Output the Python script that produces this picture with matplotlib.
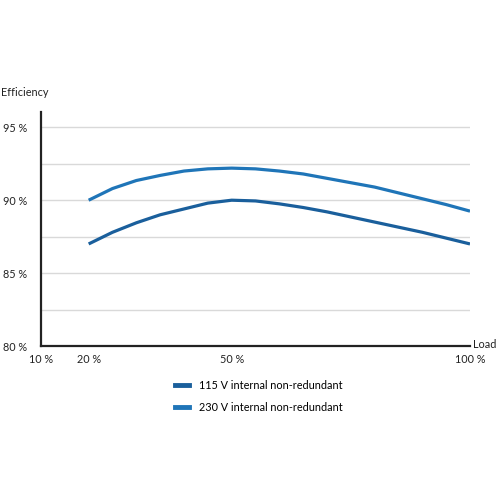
import matplotlib
matplotlib.use("Agg")
import matplotlib.pyplot as plt
from matplotlib.lines import Line2D

plt.rcParams["font.family"] = ["Lato", "DejaVu Sans"]

load = [20, 25, 30, 35, 40, 45, 50, 55, 60, 65, 70, 75, 80, 85, 90, 95, 100]
eff_115 = [87.0, 87.8, 88.45, 89.0, 89.4, 89.8, 90.0, 89.95, 89.75, 89.5, 89.2,
           88.85, 88.5, 88.15, 87.8, 87.4, 87.0]
eff_230 = [90.0, 90.8, 91.35, 91.7, 92.0, 92.15, 92.2, 92.15, 92.0, 91.8, 91.5,
           91.2, 90.9, 90.5, 90.1, 89.7, 89.25]
labels = ["115 V internal non-redundant", "230 V internal non-redundant"]
xticks = [10, 20, 50, 100]
yticks = [80, 85, 90, 95]

c115 = "#1a5f9c"
c230 = "#1f75b8"

fig = plt.figure(figsize=(5, 5), dpi=100)
ax = fig.add_axes([0.082, 0.308, 0.858, 0.468])

for g in [82.5, 85, 87.5, 90, 92.5, 95]:
    ax.axhline(g, color="#d9d9d9", lw=1.0, zorder=1)

ax.plot(load, eff_115, color=c115, lw=2.3, solid_capstyle="butt", zorder=3)
ax.plot(load, eff_230, color=c230, lw=2.3, solid_capstyle="butt", zorder=3)

ax.set_xlim(10, 100)
ax.set_ylim(80, 96.05)
ax.set_xticks(xticks)
ax.set_xticklabels([f"{v} %" for v in xticks])
ax.set_yticks(yticks)
ax.set_yticklabels([f"{v} %" for v in yticks])
ax.tick_params(length=0, labelsize=7.8, colors="#222222", pad=6)
ax.tick_params(axis="y", pad=10)
for s in ["top", "right"]:
    ax.spines[s].set_visible(False)
for s in ["left", "bottom"]:
    ax.spines[s].set_linewidth(1.6)
    ax.spines[s].set_color("#222222")

fig.text(0.002, 0.814, "Efficiency", fontsize=7.8, color="#222222", va="center")
fig.text(0.945, 0.31, "Load", fontsize=7.8, color="#222222", va="center")

handles = [Line2D([], [], color=c115, lw=3.5), Line2D([], [], color=c230, lw=3.5)]
fig.legend(handles, labels, loc="upper left", bbox_to_anchor=(0.33, 0.26),
           frameon=False, fontsize=7.8, handlelength=1.3, handletextpad=0.9,
           labelspacing=1.05)

fig.savefig("out.png", dpi=100)
